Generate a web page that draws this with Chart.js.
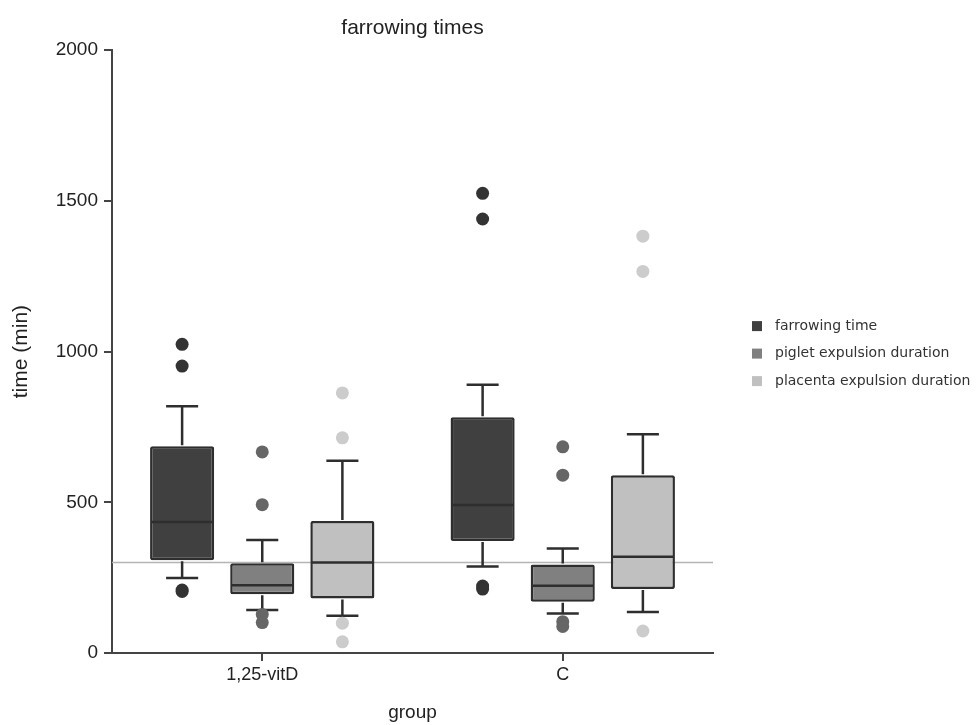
<!DOCTYPE html>
<html>
<head>
<meta charset="utf-8">
<script src="https://cdn.jsdelivr.net/npm/chart.js@4.4.1/dist/chart.umd.min.js"></script>
<style>
  html, body { margin: 0; padding: 0; background: #fff; }
  #wrap { width: 978px; height: 725px; }
</style>
</head>
<body>
<div id="wrap"><canvas id="boxChart"></canvas></div>
<script>
// groups on the x axis
var groups = ['1,25-vitD', 'C'];
var seriesNames = ['farrowing time', 'piglet expulsion duration', 'placenta expulsion duration'];

// box statistics, [series][group]
var q1Values = [[308, 372], [195, 170], [181, 212]];
var medianValues = [[435, 491], [225, 223], [300, 319]];
var q3Values = [[686, 782], [298, 294], [438, 590]];
var whiskerLow = [[249, 287], [143, 131], [124, 136]];
var whiskerHigh = [[819, 890], [375, 347], [638, 726]];
var outliers = [
    [[1024, 952, 209, 204], [1525, 1440, 222, 212]],
    [[667, 492, 128, 101], [684, 590, 104, 88]],
    [[863, 714, 99, 37], [1383, 1266, 73]]
];
var yTicks = [0, 500, 1000, 1500, 2000];
var referenceLine = 300;

var boxColors = ['#404040', '#808080', '#c0c0c0'];
var dotColors = ['#333333', '#666666', '#cccccc'];
var lineColor = '#2e2e2e';
var textColor = '#222222';
var font = 'Liberation Sans, Arial, sans-serif';

/** whiskers, medians and outliers **/
var boxExtras = {
    id: 'boxExtras',
    beforeDatasetsDraw: function (chart) {
        var ctx = chart.ctx, y = chart.scales.y, area = chart.chartArea;
        var py = y.getPixelForValue(referenceLine);
        ctx.save();
        ctx.strokeStyle = '#b4b4b4';
        ctx.lineWidth = 1.5;
        ctx.beginPath();
        ctx.moveTo(area.left, py);
        ctx.lineTo(area.right, py);
        ctx.stroke();
        ctx.restore();
    },
    afterDatasetsDraw: function (chart) {
        var ctx = chart.ctx, y = chart.scales.y;
        ctx.save();
        chart.data.datasets.forEach(function (ds, s) {
            var meta = chart.getDatasetMeta(s);
            meta.data.forEach(function (bar, g) {
                var x = bar.x, w = bar.width, cap = w / 4;
                var yQ1 = y.getPixelForValue(q1Values[s][g]);
                var yQ3 = y.getPixelForValue(q3Values[s][g]);
                var yLo = y.getPixelForValue(whiskerLow[s][g]);
                var yHi = y.getPixelForValue(whiskerHigh[s][g]);
                var yMed = y.getPixelForValue(medianValues[s][g]);
                ctx.strokeStyle = lineColor;
                ctx.lineWidth = 2.5;
                ctx.beginPath();
                ctx.moveTo(x, yQ3 - 1); ctx.lineTo(x, yHi);
                ctx.moveTo(x - cap, yHi); ctx.lineTo(x + cap, yHi);
                ctx.moveTo(x, yQ1 + 1); ctx.lineTo(x, yLo);
                ctx.moveTo(x - cap, yLo); ctx.lineTo(x + cap, yLo);
                ctx.moveTo(x - w / 2 + 1, yMed); ctx.lineTo(x + w / 2 - 1, yMed);
                ctx.stroke();
                ctx.fillStyle = dotColors[s];
                outliers[s][g].forEach(function (v) {
                    ctx.beginPath();
                    ctx.arc(x, y.getPixelForValue(v), 6.5, 0, Math.PI * 2);
                    ctx.fill();
                });
            });
        });
        ctx.restore();
    },
    afterDraw: function (chart) {
        // legend on the right
        var ctx = chart.ctx, area = chart.chartArea;
        var bx = area.right + 39, tx = area.right + 62;
        var cy = (area.top + area.bottom) / 2 + 2;
        ctx.save();
        ctx.font = '14px "DejaVu Sans", Verdana, sans-serif';
        ctx.textBaseline = 'middle';
        seriesNames.forEach(function (name, s) {
            var ry = cy + (s - 1) * 27.5;
            ctx.fillStyle = boxColors[s];
            ctx.fillRect(bx, ry - 5, 10, 10);
            ctx.fillStyle = '#333';
            ctx.fillText(name, tx, ry);
        });
        ctx.restore();
    }
};

var barData = {
    labels: groups,
    datasets: seriesNames.map(function (name, s) {
        return {
            label: name,
            data: groups.map(function (g, i) { return [q1Values[s][i], q3Values[s][i]]; }),
            backgroundColor: boxColors[s],
            borderColor: lineColor,
            borderWidth: 2.5,
            borderSkipped: false,
            borderRadius: 2,
            categoryPercentage: 0.8,
            barPercentage: 0.8
        };
    })
};

var barOptions = {
    responsive: true,
    maintainAspectRatio: false,
    animation: false,
    layout: { padding: { left: 0, right: 265, top: 0, bottom: 0 } },
    plugins: {
        legend: { display: false },
        tooltip: { enabled: false },
        title: {
            display: true,
            text: 'farrowing times',
            fullSize: false,
            color: textColor,
            font: { family: font, size: 21, weight: 'normal' },
            padding: { top: 16, bottom: 9 }
        }
    },
    scales: {
        x: {
            offset: true,
            grid: { display: true, drawOnChartArea: false, drawTicks: true, tickLength: 8, offset: false, color: '#444', lineWidth: 2 },
            border: { display: true, color: '#444', width: 2 },
            ticks: { color: textColor, font: { family: font, size: 18 }, padding: 3 },
            title: { display: true, text: 'group', color: textColor, font: { family: font, size: 19 }, padding: { top: 0, bottom: 1 } },
            afterFit: function (scale) { scale.height = 72; }
        },
        y: {
            min: 0,
            max: 2000,
            afterBuildTicks: function (scale) {
                scale.ticks = yTicks.map(function (v) { return { value: v }; });
            },
            grid: { display: true, drawOnChartArea: false, drawTicks: true, tickLength: 8, color: '#444', lineWidth: 2 },
            border: { display: true, color: '#444', width: 2 },
            ticks: {
                color: textColor,
                font: { family: font, size: 19 },
                padding: 6,
                callback: function (v) { return String(v); }
            },
            title: { display: true, text: 'time (min)', color: textColor, font: { family: font, size: 21 }, padding: { top: 9, bottom: 0 } },
            afterFit: function (scale) { scale.width = 112; }
        }
    }
};

var ctx2 = document.getElementById('boxChart').getContext('2d');
new Chart(ctx2, { type: 'bar', data: barData, options: barOptions, plugins: [boxExtras] });
</script>
</body>
</html>
